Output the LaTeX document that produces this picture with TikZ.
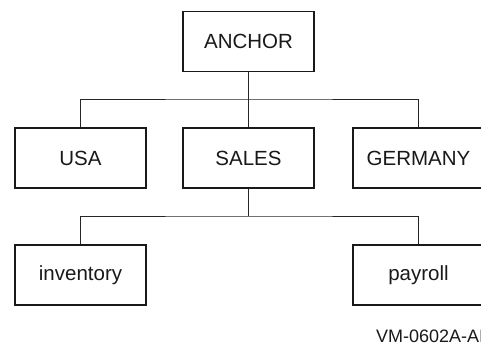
\documentclass[tikz,border=0pt]{standalone}
\usepackage{fontspec}
\setmainfont{Liberation Sans}
\begin{document}
\begin{tikzpicture}[x=1pt,y=-1pt,
  box/.style={draw=black!90, line width=1.8pt, minimum width=131pt, minimum height=60pt, inner sep=0pt, font=\fontsize{20.5}{24}\selectfont, text=black!90},
  link/.style={draw=black!85, line width=0.9pt},
  tag/.style={font=\fontsize{18}{20}\selectfont, text=black!90, inner sep=0pt, anchor=base west}]
\clip (0,0) rectangle (481,344);
\useasboundingbox (0,0) rectangle (481,344);
\node[box] (anchor) at (248.5,41.5) {ANCHOR};
\node[box] (usa) at (80.5,158) {USA};
\node[box] (sales) at (248.5,158) {SALES};
\node[box] (germany) at (418.5,158) {GERMANY};
\node[box] (inv) at (80.5,275) {inventory};
\node[box] (pay) at (418.5,275) {payroll};
\coordinate (j1) at (248.5,99);
\coordinate (j2) at (248.5,216);
\draw[link] (anchor.south) -- (sales.north);
\draw[link] (usa.north) |- (j1) -| (germany.north);
\draw[link] (sales.south) -- (j2);
\draw[link] (inv.north) |- (j2) -| (pay.north);
\node[tag] (code) at (376,342) {VM-0602A-AI};
\end{tikzpicture}
\end{document}
